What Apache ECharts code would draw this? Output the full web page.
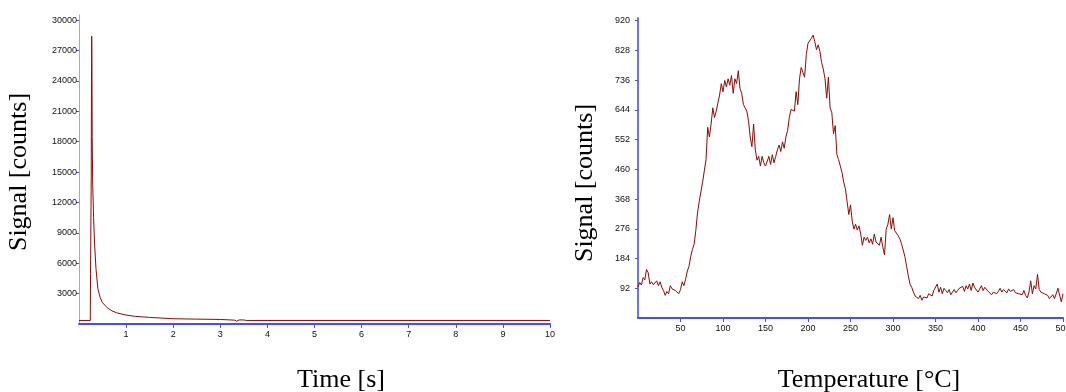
<!DOCTYPE html>
<html><head><meta charset="utf-8">
<script src="https://cdn.jsdelivr.net/npm/echarts@6/dist/echarts.min.js"></script>
<style>html,body{margin:0;padding:0;background:#fff}#c{width:1066px;height:392px}</style>
</head><body><div id="c"></div>
<script>
// Left panel: signal vs time
const timeS = [0, 0.24, 0.245, 0.255, 0.26, 0.265, 0.27, 0.275, 0.28, 0.29, 0.31, 0.33, 0.36, 0.40, 0.45, 0.5, 0.6, 0.7, 0.8, 1.0, 1.2, 1.5, 2.0, 2.5, 3.0, 3.3, 3.35, 3.4, 3.5, 3.55, 10];
const timeSignal = [350, 350, 5000, 5000, 14500, 24000, 28400, 25000, 18500, 14000, 10500, 8000, 5500, 3500, 2600, 2100, 1600, 1300, 1100, 880, 750, 650, 520, 480, 450, 380, 280, 400, 400, 350, 350];
const timeTicks = [1, 2, 3, 4, 5, 6, 7, 8, 9, 10];
const signalTicksLeft = [3000, 6000, 9000, 12000, 15000, 18000, 21000, 24000, 27000, 30000];

// Right panel: signal vs temperature (every 2 °C, 0..500)
const tempStep = 2;
const tempSignal = [
96,110,102,125,118,150,140,105,112,103,108,115,100,112,95,85,70,82,75,100,
90,95,85,80,75,88,112,100,120,145,160,190,212,228,270,325,360,390,420,455,
490,590,560,600,650,620,640,665,690,725,700,735,715,740,720,750,695,740,725,765,
710,695,660,650,640,610,560,530,600,520,488,500,470,500,480,470,465,500,475,505,
480,500,520,535,515,545,525,560,580,620,645,650,640,700,660,740,775,760,745,815,
850,845,865,875,855,830,845,825,790,770,740,680,745,650,635,570,595,505,490,495,
450,420,400,360,320,350,300,275,290,272,285,260,225,250,240,250,232,245,228,260,
235,240,225,250,220,195,275,290,320,275,310,270,265,255,245,230,210,190,160,130,
105,95,80,68,72,60,70,55,65,70,62,75,80,68,85,90,105,80,95,75,
92,85,78,88,72,80,88,78,85,92,88,98,82,100,90,105,85,108,95,100,
80,90,100,85,95,90,82,78,72,80,85,75,82,92,80,88,85,78,90,82,
80,88,78,82,75,80,72,85,70,62,80,115,75,100,90,135,88,80,85,75,
80,70,60,65,72,60,75,92,88,50,75];
const tempTicks = [50, 100, 150, 200, 250, 300, 350, 400, 450, 500];
const signalTicksRight = [92, 184, 276, 368, 460, 552, 644, 736, 828, 920];

const leftData = timeS.map((t, i) => [t, timeSignal[i]]);
const rightData = tempSignal.map((v, i) => [i * tempStep, v]);

const lineColor = '#8b0a0a';
const blue = '#4a4aff';
const labelFont = {fontFamily: 'Liberation Sans', fontSize: 9, color: '#111', formatter: v => String(v)};
const serif = 'Liberation Serif';

const chart = echarts.init(document.getElementById('c'), null, {renderer: 'canvas'});
chart.setOption({
  animation: false,
  backgroundColor: '#fff',
  grid: [
    {left: 79, right: 516, top: 15, bottom: 68, containLabel: false, outerBoundsMode: 'none'},
    {left: 638, right: 3, top: 18, bottom: 74, containLabel: false, outerBoundsMode: 'none'}
  ],
  xAxis: [
    {type: 'value', gridIndex: 0, min: 0, max: 10,
     axisLine: {lineStyle: {color: blue, width: 2}},
     axisTick: {show: true, customValues: timeTicks, length: 4, inside: false, lineStyle: {color: blue, width: 1}},
     axisLabel: {customValues: timeTicks, margin: 6, hideOverlap: false, ...labelFont},
     splitLine: {show: false}},
    {type: 'value', gridIndex: 1, min: 0, max: 500,
     axisLine: {lineStyle: {color: blue, width: 2}},
     axisTick: {show: true, customValues: tempTicks, length: 4, inside: false, lineStyle: {color: blue, width: 1}},
     axisLabel: {customValues: tempTicks, margin: 6, hideOverlap: false, ...labelFont},
     splitLine: {show: false}}
  ],
  yAxis: [
    {type: 'value', gridIndex: 0, min: 0, max: 30500,
     axisLine: {show: true, lineStyle: {color: '#aaaaaa', width: 1}},
     axisTick: {show: true, customValues: signalTicksLeft, length: 3, lineStyle: {color: blue, width: 1}},
     axisLabel: {customValues: signalTicksLeft, margin: 2, ...labelFont},
     splitLine: {show: false}},
    {type: 'value', gridIndex: 1, min: 0, max: 928,
     axisLine: {show: true, lineStyle: {color: '#7070ff', width: 2}},
     axisTick: {show: true, customValues: signalTicksRight, length: 3, lineStyle: {color: blue, width: 1}},
     axisLabel: {customValues: signalTicksRight, margin: 8, ...labelFont},
     splitLine: {show: false}}
  ],
  series: [
    {type: 'line', xAxisIndex: 0, yAxisIndex: 0, data: leftData, showSymbol: false,
     lineStyle: {color: lineColor, width: 1}, z: 3},
    {type: 'line', xAxisIndex: 1, yAxisIndex: 1, data: rightData, showSymbol: false,
     lineStyle: {color: lineColor, width: 1}, z: 3}
  ],
  graphic: [
    {type: 'text', x: 19, y: 172, rotation: Math.PI / 2,
     style: {text: 'Signal [counts]', font: '26px "' + serif + '"', fill: '#000', align: 'center', verticalAlign: 'middle'}},
    {type: 'text', x: 585, y: 183, rotation: Math.PI / 2,
     style: {text: 'Signal [counts]', font: '26px "' + serif + '"', fill: '#000', align: 'center', verticalAlign: 'middle'}},
    {type: 'text', x: 341, y: 380,
     style: {text: 'Time [s]', font: '26px "' + serif + '"', fill: '#000', align: 'center', verticalAlign: 'middle'}},
    {type: 'text', x: 869, y: 380,
     style: {text: 'Temperature [°C]', font: '26px "' + serif + '"', fill: '#000', align: 'center', verticalAlign: 'middle'}}
  ]
});
</script></body></html>
